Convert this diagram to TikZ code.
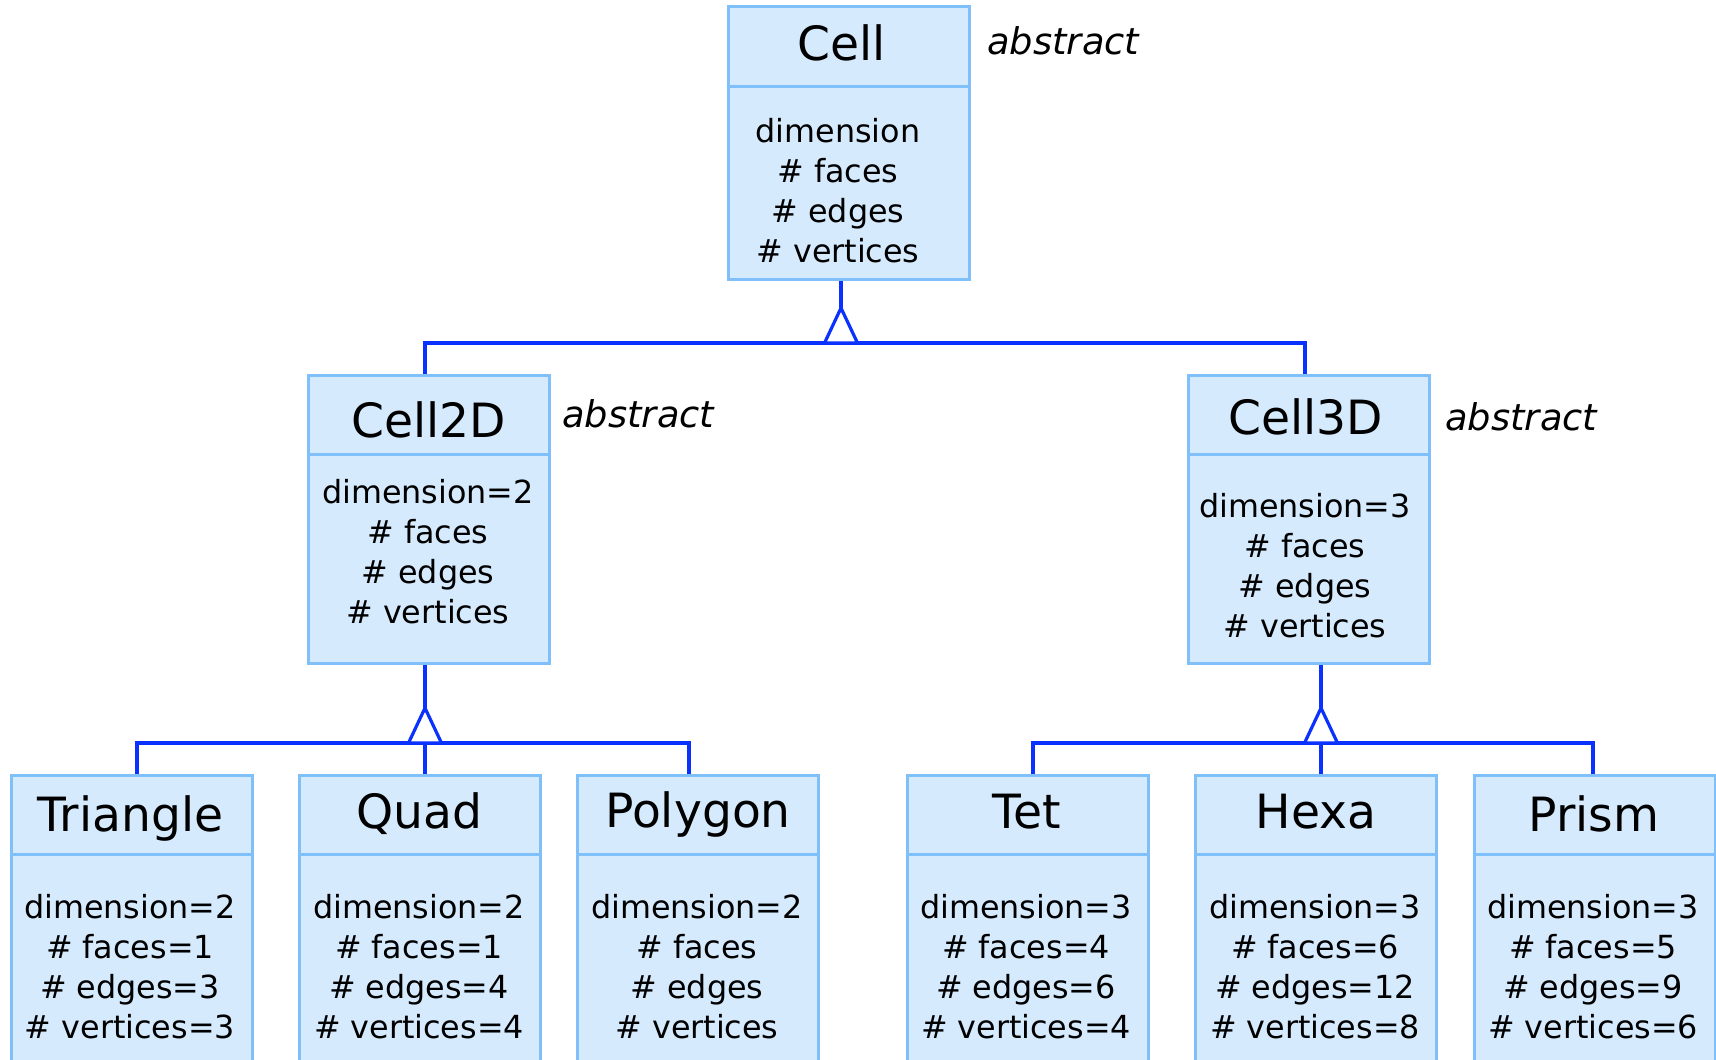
\documentclass[tikz,border=0pt]{standalone}
\usepackage{fontspec}
\setmainfont{DejaVu Sans}
\definecolor{boxfill}{HTML}{D5EAFD}
\definecolor{boxline}{HTML}{7FBFFA}
\definecolor{linkblue}{HTML}{0A32FF}
\tikzset{
  classbox/.style={draw=boxline, fill=boxfill, line width=1.5pt, minimum width=120.5pt, inner sep=0pt},
  boxrule/.style={draw=boxline, line width=1.5pt},
  classname/.style={font=\fontsize{23.6}{28}\selectfont, anchor=base, inner sep=0pt},
  attrs/.style={font=\fontsize{15.9}{20}\selectfont, align=center, anchor=north, inner sep=0pt},
  note/.style={font=\itshape\fontsize{18.4}{22}\selectfont, anchor=base west, inner sep=0pt},
  link/.style={draw=linkblue, line width=1.6pt, line join=miter},
  inherit/.style={link, fill=white}
}
\begin{document}
\begin{tikzpicture}[x=0.5pt, y=-0.5pt]
\useasboundingbox (0,0) rectangle (1716,1059);
\clip (0,0) rectangle (1716,1059);

% ---- class boxes ----
\node[classbox, minimum height=136pt] (cell)  at (848.5,143) {};
\node[classbox, minimum height=144pt] (cell2) at (428.5,519) {};
\node[classbox, minimum height=144pt] (cell3) at (1309,519) {};
\node[classbox, minimum height=150pt] (tri)   at (131.5,925) {};
\node[classbox, minimum height=150pt] (quad)  at (419.5,925) {};
\node[classbox, minimum height=150pt] (poly)  at (698,925) {};
\node[classbox, minimum height=150pt] (tet)   at (1027.5,925) {};
\node[classbox, minimum height=150pt] (hexa)  at (1316,925) {};
\node[classbox, minimum height=150pt] (prism) at (1594.5,925) {};

% header separators
\foreach \b in {cell,cell2,cell3,tri,quad,poly,tet,hexa,prism}
  \draw[boxrule] ([yshift=-40.5pt]\b.north west) -- ([yshift=-40.5pt]\b.north east);

% ---- class names ----
\node[classname] (cellT)  at (842,61)    {Cell};
\node[classname] (cell2T) at (428.5,437) {Cell2D};
\node[classname] (cell3T) at (1306,434)  {Cell3D};
\node[classname] (triT)   at (130.5,831) {Triangle};
\node[classname] (quadT)  at (419,828)   {Quad};
\node[classname] (polyT)  at (698,827)   {Polygon};
\node[classname] (tetT)   at (1027,828)  {Tet};
\node[classname] (hexaT)  at (1316,828)  {Hexa};
\node[classname] (prismT) at (1594,831)  {Prism};

% ---- attributes ----
\node[attrs] (cellA)  at (838,117.8)   {dimension\\\# faces\\\# edges\\\# vertices};
\node[attrs] (cell2A) at (428,478.8)   {dimension=2\\\# faces\\\# edges\\\# vertices};
\node[attrs] (cell3A) at (1305,492.8)  {dimension=3\\\# faces\\\# edges\\\# vertices};
\node[attrs] (triA)   at (130,893.8)   {dimension=2\\\# faces=1\\\# edges=3\\\# vertices=3};
\node[attrs] (quadA)  at (419,893.8)   {dimension=2\\\# faces=1\\\# edges=4\\\# vertices=4};
\node[attrs] (polyA)  at (697,893.8)   {dimension=2\\\# faces\\\# edges\\\# vertices};
\node[attrs] (tetA)   at (1026,893.8)  {dimension=3\\\# faces=4\\\# edges=6\\\# vertices=4};
\node[attrs] (hexaA)  at (1315,893.8)  {dimension=3\\\# faces=6\\\# edges=12\\\# vertices=8};
\node[attrs] (prismA) at (1593,893.8)  {dimension=3\\\# faces=5\\\# edges=9\\\# vertices=6};

% ---- stereotype notes ----
\node[note] (cellN)  at (987,55)   {abstract};
\node[note] (cell2N) at (562,427)  {abstract};
\node[note] (cell3N) at (1445,430) {abstract};

% ---- inheritance: Cell <- Cell2D, Cell3D ----
\coordinate (apex0) at (841,308);
\coordinate (j0L) at (425,343);
\coordinate (j0R) at (1305,343);
\draw[link] (cell.south -| apex0) -- (apex0);
\draw[link] (cell2.north -| j0L) -- (j0L) -- (j0R) -- (cell3.north -| j0R);
\draw[inherit] (apex0) -- ++(-16.5,35) -- ++(33,0) -- cycle;

% ---- inheritance: Cell2D <- Triangle, Quad, Polygon ----
\coordinate (apex1) at (425,708);
\coordinate (j1a) at (137,743);
\coordinate (j1b) at (425,743);
\coordinate (j1c) at (689,743);
\draw[link] (cell2.south -| apex1) -- (apex1);
\draw[link] (tri.north -| j1a) -- (j1a) -- (j1c) -- (poly.north -| j1c);
\draw[link] (j1b) -- (quad.north -| j1b);
\draw[inherit] (apex1) -- ++(-16.5,35) -- ++(33,0) -- cycle;

% ---- inheritance: Cell3D <- Tet, Hexa, Prism ----
\coordinate (apex2) at (1321,708);
\coordinate (j2a) at (1033,743);
\coordinate (j2b) at (1321,743);
\coordinate (j2c) at (1593,743);
\draw[link] (cell3.south -| apex2) -- (apex2);
\draw[link] (tet.north -| j2a) -- (j2a) -- (j2c) -- (prism.north -| j2c);
\draw[link] (j2b) -- (hexa.north -| j2b);
\draw[inherit] (apex2) -- ++(-16.5,35) -- ++(33,0) -- cycle;
\end{tikzpicture}
\end{document}
